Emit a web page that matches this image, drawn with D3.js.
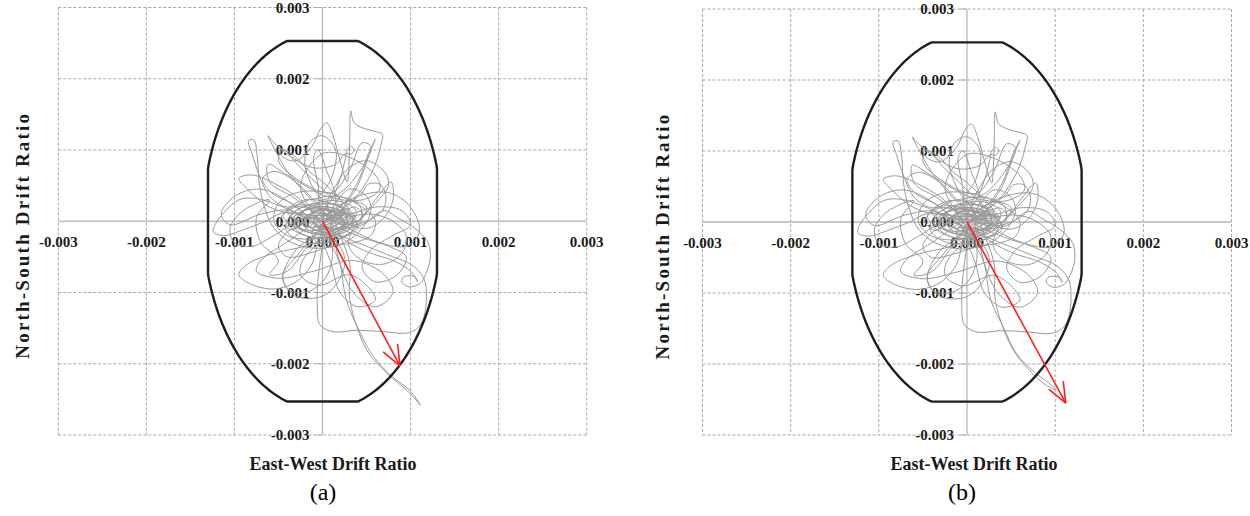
<!DOCTYPE html>
<html>
<head>
<meta charset="utf-8">
<script src="https://cdn.jsdelivr.net/npm/d3@7"></script>
<style>
  html, body { margin: 0; padding: 0; background: #fff; }
  svg { display: block; }
</style>
</head>
<body>
<svg id="chart" width="1250" height="516"></svg>
<script>
// Drift ratios are stored in units of 1e-3 (0.001 = 1).
const tickValues = [-3, -2, -1, 0, 1, 2, 3];
const tickLabels = ["-0.003", "-0.002", "-0.001", "0.000", "0.001", "0.002", "0.003"];
const panelTags = ["(a)", "(b)"];
const xTitle = "East-West Drift Ratio";
const yTitle = "North-South Drift Ratio";

// Allowable drift envelope: ellipse semi-axes (EW, NS) and the cut-off limits.
const envelopeRadii = [1.355, 2.65];
const envelopeLimits = [1.30, 2.53];

// Peak drift vectors (origin -> tip), one per panel.
const peakArrowA = [[0, 0], [0.88, -2.03]];
const peakArrowB = [[0, 0], [1.12, -2.55]];

// Roof drift orbit (EW, NS), shared part of the record.
const orbitCore = [
  [0,0],[0.08,0.06],[0.02,0.12],[-0.1,0.05],[-0.05,-0.08],[0.1,-0.05],[0.18,0.08],[0.05,0.18],
  [-0.15,0.1],[-0.22,-0.05],[-0.08,-0.16],[0.15,-0.12],[0.28,0.02],[0.2,0.2],[-0.02,0.24],
  [-0.25,0.12],[-0.32,-0.08],[-0.15,-0.22],[0.12,-0.2],[0.32,-0.05],[0.38,0.15],[0.2,0.28],
  [-0.1,0.25],[-0.35,0.1],[-0.42,-0.1],[-0.25,-0.28],[0.05,-0.3],[0.3,-0.18],[0.45,0.05],
  [0.4,0.25],[0.15,0.35],[-0.15,0.3],
  [-0.4,0.2],[-0.6,0.35],[-0.72,0.65],[-0.8,0.95],[-0.84,1.13],[-0.78,1.14],[-0.74,0.9],
  [-0.72,0.55],[-0.66,0.2],[-0.55,-0.1],[-0.35,-0.3],[-0.05,-0.38],[0.25,-0.3],[0.45,-0.1],
  [0.55,0.15],[0.5,0.35],[0.3,0.45],
  [0.05,0.02],[0.2,0.12],[0.32,0.06],[0.22,-0.08],[0.02,-0.14],[-0.18,-0.06],[-0.25,0.1],
  [-0.08,0.2],[0.14,0.18],[0.28,0.04],[0.18,-0.14],[-0.05,-0.18],[-0.3,-0.05],[-0.22,0.14],
  [0.02,0.16],[0.22,0.06],[0.12,-0.08],[-0.08,-0.04],[-0.18,0.06],[-0.05,0.12],[0.16,0.08],
  [0.36,0.2],[0.45,0.1],[0.3,-0.12],[0.05,-0.22],[-0.2,-0.2],[-0.38,-0.05],[-0.3,0.15],
  [-0.05,0.25],[0.2,0.22],[0.38,0.05],
  [0.05,0.5],[-0.15,0.7],[-0.35,0.95],[-0.5,1.02],[-0.45,0.9],[-0.3,0.85],[-0.12,1.05],
  [-0.02,1.3],[0.05,1.38],[0.12,1.2],[0.2,0.85],[0.28,0.55],[0.3,0.8],[0.31,1.2],[0.32,1.55],
  [0.36,1.38],[0.48,1.3],[0.6,1.26],[0.68,1.22],[0.66,1.05],[0.6,0.8],[0.5,0.55],[0.35,0.3],
  [0.15,0.1],[0.0,0.0],
  [-0.1,0.08],[-0.35,-0.12],[-0.48,0.02],[-0.3,0.2],[0.0,0.1],[0.22,-0.05],[0.42,0.02],
  [0.5,0.2],[0.3,0.28],[0.08,0.12],[-0.12,-0.15],[-0.05,-0.3],[0.18,-0.25],[0.4,-0.1],
  [0.28,0.1],[0.0,0.0],
  [-0.2,0.05],[-0.55,-0.2],[-0.8,-0.35],[-1.0,-0.3],[-1.05,-0.1],[-0.9,0.15],[-0.6,0.3],
  [-0.75,0.05],[-0.7,-0.3],[-0.5,-0.55],[-0.6,-0.75],[-0.4,-0.7],[-0.2,-0.4],[0.0,-0.1],
  [0.2,-0.1],[0.45,-0.05],[0.7,0.15],[0.85,0.05],[1.05,-0.1],[1.2,-0.3],[1.22,-0.55],
  [1.15,-0.8],[1.1,-0.88],[0.98,-0.92],[0.9,-0.85],[0.92,-0.78],[1.05,-0.78],[1.08,-0.85],
  [1.0,-0.7],[0.8,-0.55],[0.55,-0.45],[0.3,-0.3],[0.1,-0.1],
  [0.1,0.1],[-0.1,0.45],[-0.2,0.8],[-0.15,1.1],[0.0,1.2],[0.15,1.0],[0.1,0.6],[-0.05,0.3],
  [0.2,0.4],[0.45,0.75],[0.55,1.05],[0.45,1.1],[0.3,0.7],[0.1,0.4],[-0.3,0.6],[-0.5,0.85],
  [-0.45,1.0],[-0.25,0.75],[0.0,0.45],[0.25,0.1],
  [-0.15,0.05],[-0.45,0.2],[-0.75,0.32],[-0.95,0.3],[-1.12,0.12],[-1.22,-0.05],[-1.24,-0.15],
  [-1.12,-0.2],[-0.9,-0.12],[-0.65,0.0],[-0.45,0.12],[-0.2,0.1],[0.0,0.02],
  [-0.25,-0.02],[-0.4,0.15],[-0.2,0.3],[0.1,0.25],[0.25,0.15],[0.1,-0.02],[-0.15,-0.08],
  [-0.32,0.05],[-0.15,0.18],[0.1,0.14],[0.35,-0.02],[0.2,-0.18],[-0.05,-0.12],
  [0.15,0.1],[0.3,0.18],[0.25,0.02],[0.05,-0.1],[-0.2,-0.12],[-0.35,0.02],[-0.2,0.15],
  [0.05,0.2],[0.3,0.1],[0.4,-0.05],[0.25,-0.2],[0.0,-0.2],[-0.28,-0.1],[-0.45,0.08],
  [-0.3,0.22],[0.0,0.18],[0.2,0.05],
  [0.1,0.0],[-0.35,0.35],[-0.6,0.55],[-0.62,0.8],[-0.4,0.65],[0.05,0.35],[0.45,0.3],
  [0.65,0.45],[0.6,0.65],[0.3,0.9],[0.0,0.95],[-0.25,0.5],[-0.1,0.1],
  [0.0,-0.1],[-0.3,-0.4],[-0.45,-0.8],[-0.3,-1.05],[0.0,-1.05],[0.2,-0.8],[0.25,-0.5],
  [0.1,-0.25],[-0.2,-0.5],[-0.25,-0.75],[-0.05,-0.9],[0.3,-0.75],[0.5,-0.9],[0.6,-1.1],
  [0.4,-1.2],[0.2,-1.0],[0.1,-0.6],[0.0,-0.2],
  [0.1,-0.2],[-0.2,-0.35],[-0.55,-0.45],[-0.85,-0.6],[-0.95,-0.75],[-0.82,-0.88],[-0.55,-0.95],
  [-0.3,-0.85],[-0.12,-0.6],[-0.05,-0.3],[0.05,-0.05],
  [0.4,0.0],[0.6,0.3],[0.78,0.55],[0.8,0.3],[0.7,0.05],[0.5,-0.1],[0.2,0.05],[0.4,0.5],
  [0.55,1.0],[0.6,1.15],[0.52,0.95],[0.4,0.55],[0.2,0.2],
  [0.0,0.1],[-0.05,0.5],[-0.1,0.9],[-0.05,1.0],[0.05,0.7],[0.15,0.3],[0.05,0.05],
  [0.25,0.2],[0.45,0.4],[0.52,0.52],[0.65,0.52],[0.72,0.35],[0.68,0.15],[0.5,0.0],[0.3,-0.05],
  [0.1,0.1],[-0.1,0.3],[-0.3,0.55],[-0.55,0.7],[-0.68,0.6],[-0.58,0.4],[-0.35,0.25],[-0.1,0.05],
  [0.1,0.3],[0.2,0.6],[0.26,0.88],[0.28,1.0],[0.32,1.05],[0.36,1.0],[0.32,0.94],[0.26,0.95],
  [0.15,0.8],[-0.1,0.75],[-0.35,0.9],[-0.55,1.1],[-0.62,1.2],[-0.56,1.05],[-0.4,0.7],
  [-0.2,0.4],[0.0,0.15],
  [0.3,-0.1],[0.65,-0.3],[0.95,-0.35],[1.1,-0.15],[1.0,0.2],[0.75,0.4],[0.4,0.35],[0.05,0.1],
  [-0.35,-0.25],[-0.7,-0.55],[-0.75,-0.7],[-0.5,-0.8],[-0.1,-0.7],[0.35,-0.55],[0.7,-0.75],
  [0.8,-1.0],[0.6,-1.2],[0.35,-1.0],[0.15,-0.45],[0.0,-0.1],
  [0.12,0.05],[0.26,-0.06],[0.1,-0.16],[-0.12,-0.1],[-0.2,0.04],[-0.06,0.14],[0.18,0.14],
  [0.34,0.02],[0.2,-0.12],[-0.02,-0.06],
  [0.2,-0.2],[0.5,-0.35],[0.8,-0.5],[1.0,-0.6],[1.15,-0.8],[1.18,-1.05],[1.15,-1.35],
  [1.08,-1.5],[0.95,-1.57],[0.7,-1.55],[0.4,-1.53],[0.12,-1.55],[-0.03,-1.45],[-0.06,-1.15],
  [-0.05,-0.8],[-0.02,-0.5],[0.0,-0.2],
  [-0.3,0.2],[-0.7,0.45],[-1.0,0.35],[-1.15,0.1],[-1.05,-0.05],[-0.7,0.1],[-0.35,0.15],
  [-0.2,0.0],[-0.4,-0.15],[-0.5,-0.35],[-0.4,-0.5],[-0.15,-0.45],[0.1,-0.35],[0.35,-0.3],
  [0.55,-0.2],[0.6,0.0],[0.45,0.2],[0.2,0.35],[-0.05,0.42],[-0.3,0.4],[-0.5,0.25],[-0.55,0.0],
  [-0.4,-0.2],[-0.1,-0.25],[0.2,-0.15],[0.35,0.05],[0.2,0.15],[0.0,0.05],
  [0.2,-0.1],[0.5,-0.25],[0.75,-0.35],[0.95,-0.5],[0.85,-0.75],[0.6,-0.85],[0.45,-0.65],
  [0.55,-0.4],[0.8,-0.2],[1.0,-0.05],[0.9,0.15],[0.6,0.2],[0.3,0.1],
  [-0.3,0.1],[-0.6,0.2],[-0.85,0.45],[-0.95,0.6],[-0.8,0.65],[-0.5,0.5],[-0.25,0.3],
  [-0.05,0.0],[0.1,-0.3],[0.1,-0.6],[0.0,-0.85],[-0.2,-1.0],[-0.4,-0.95],[-0.45,-0.75],
  [-0.3,-0.5],[-0.1,-0.2],[0.05,0.0],
  [0.25,0.05],[0.55,0.1],[0.8,0.0],[0.95,-0.2],[0.9,-0.45],[0.7,-0.6],[0.45,-0.55],[0.3,-0.35],
  [0.35,-0.1],[0.6,0.25],[0.75,0.5],[0.7,0.7],[0.5,0.85],[0.3,0.75],[0.15,0.5],[0.05,0.2],
  [0.15,0.05],[0.3,0.0],[0.2,-0.1],[0.0,-0.08],[-0.15,0.05],[-0.05,0.15],[0.15,0.12],
  [0.25,-0.02],[0.1,-0.12],[-0.1,-0.05],[-0.05,0.08],[0.1,0.05],[0.2,-0.2]
];

// Final large excursion toward the south-east, different for each record.
const orbitTailA = [
  [0.31,-0.6],[0.31,-1.1],[0.5,-1.8],[0.73,-2.13],[0.99,-2.41],[1.11,-2.58],
  [0.99,-2.37],[0.8,-2.19],[0.58,-1.9],[0.43,-1.57],[0.27,-1.1],[0.2,-0.6],[0.1,-0.2],[0.0,0.0]
];
const orbitTailB = [
  [0.31,-0.6],[0.32,-1.1],[0.5,-1.75],[0.7,-2.08],[0.9,-2.3],[1.01,-2.36],
  [0.92,-2.26],[0.75,-2.1],[0.56,-1.85],[0.42,-1.5],[0.27,-1.1],[0.2,-0.6],[0.1,-0.2],[0.0,0.0]
];

const panels = [
  { x0: 58.3, x1: 586.7, y0: 7.5, y1: 435, orbit: orbitCore.concat(orbitTailA), arrow: peakArrowA,
    tag: panelTags[0], yTitleX: 22, xTitleX: 333, tagX: 323 },
  { x0: 702.5, x1: 1231.5, y0: 9, y1: 435, orbit: orbitCore.concat(orbitTailB), arrow: peakArrowB,
    tag: panelTags[1], yTitleX: 662, xTitleX: 974, tagX: 962 }
];

const svg = d3.select("#chart");
const serif = "'Liberation Serif', 'Times New Roman', serif";

function envelopePoints() {
  const [a, b] = envelopeRadii;
  const [cx, cy] = envelopeLimits;
  return d3.range(0, 361, 1).map(deg => {
    const t = deg * Math.PI / 180;
    return [Math.max(-cx, Math.min(cx, a * Math.cos(t))),
            Math.max(-cy, Math.min(cy, b * Math.sin(t)))];
  });
}

panels.forEach(p => {
  const x = d3.scaleLinear().domain([-3, 3]).range([p.x0, p.x1]);
  const y = d3.scaleLinear().domain([-3, 3]).range([p.y1, p.y0]);
  const g = svg.append("g");

  // dashed grid, including the outer frame
  const gridVals = tickValues.filter(v => v !== 0);
  g.selectAll(".gv").data(gridVals).join("line")
    .attr("x1", d => x(d)).attr("x2", d => x(d))
    .attr("y1", p.y0).attr("y2", p.y1)
    .attr("stroke", "#a8a8a8").attr("stroke-width", 1).attr("stroke-dasharray", "3,2");
  g.selectAll(".gh").data(gridVals).join("line")
    .attr("y1", d => y(d)).attr("y2", d => y(d))
    .attr("x1", p.x0).attr("x2", p.x1)
    .attr("stroke", "#a8a8a8").attr("stroke-width", 1).attr("stroke-dasharray", "3,2");

  // axes through the origin
  g.append("line")
    .attr("x1", p.x0).attr("x2", p.x1).attr("y1", y(0)).attr("y2", y(0))
    .attr("stroke", "#c8c8c8").attr("stroke-width", 2);
  g.append("line")
    .attr("x1", x(0)).attr("x2", x(0)).attr("y1", p.y0).attr("y2", p.y1)
    .attr("stroke", "#b4b4b4").attr("stroke-width", 1.2);

  // y ticks on the vertical axis
  g.selectAll(".yt").data(tickValues).join("line")
    .attr("x1", x(0) - 7).attr("x2", x(0))
    .attr("y1", d => y(d)).attr("y2", d => y(d))
    .attr("stroke", "#b4b4b4").attr("stroke-width", 1);

  // tick labels
  g.selectAll(".xl").data(tickValues).join("text")
    .attr("x", d => x(d)).attr("y", y(0) + 26)
    .attr("text-anchor", "middle")
    .attr("font-family", serif).attr("font-size", 15).attr("font-weight", "bold")
    .attr("fill", "#1a1a1a")
    .text((d, i) => tickLabels[i]);
  g.selectAll(".yl").data(tickValues).join("text")
    .attr("x", x(0) - 13).attr("y", d => y(d)).attr("dy", "0.36em")
    .attr("text-anchor", "end")
    .attr("font-family", serif).attr("font-size", 15).attr("font-weight", "bold")
    .attr("fill", "#1a1a1a")
    .text((d, i) => tickLabels[i]);

  // drift orbit
  const line = d3.line().x(d => x(d[0])).y(d => y(d[1])).curve(d3.curveCatmullRom.alpha(0.5));
  g.append("path").datum(p.orbit)
    .attr("d", line)
    .attr("fill", "none").attr("stroke", "#9a9a9a").attr("stroke-width", 1);

  // allowable drift envelope
  const straight = d3.line().x(d => x(d[0])).y(d => y(d[1]));
  g.append("path").datum(envelopePoints())
    .attr("d", straight)
    .attr("fill", "none").attr("stroke", "#1e1e1e").attr("stroke-width", 2.4)
    .attr("stroke-linejoin", "round");

  // peak drift arrow
  const [o, t] = p.arrow;
  const ox = x(o[0]), oy = y(o[1]), tx = x(t[0]), ty = y(t[1]);
  g.append("line")
    .attr("x1", ox).attr("y1", oy).attr("x2", tx).attr("y2", ty)
    .attr("stroke", "#ff1e1e").attr("stroke-width", 1.6);
  const back = Math.atan2(oy - ty, ox - tx);
  const barb = 22, spread = 22 * Math.PI / 180;
  [-spread, spread].forEach(s => {
    g.append("line")
      .attr("x1", tx).attr("y1", ty)
      .attr("x2", tx + barb * Math.cos(back + s)).attr("y2", ty + barb * Math.sin(back + s))
      .attr("stroke", "#ff1e1e").attr("stroke-width", 1.6);
  });

  // titles
  g.append("text")
    .attr("x", p.xTitleX).attr("y", 470)
    .attr("text-anchor", "middle")
    .attr("font-family", serif).attr("font-size", 18).attr("font-weight", "bold")
    .attr("fill", "#1a1a1a")
    .text(xTitle);
  g.append("text")
    .attr("transform", `translate(${p.yTitleX},${(p.y0 + p.y1) / 2 + 14}) rotate(-90)`)
    .attr("dy", "0.35em")
    .attr("text-anchor", "middle")
    .attr("font-family", serif).attr("font-size", 19).attr("font-weight", "bold")
    .attr("letter-spacing", 2.2)
    .attr("fill", "#1a1a1a")
    .text(yTitle);
  g.append("text")
    .attr("x", p.tagX).attr("y", 500)
    .attr("text-anchor", "middle")
    .attr("font-family", serif).attr("font-size", 24)
    .attr("fill", "#000")
    .text(p.tag);
});
</script>
</body>
</html>
